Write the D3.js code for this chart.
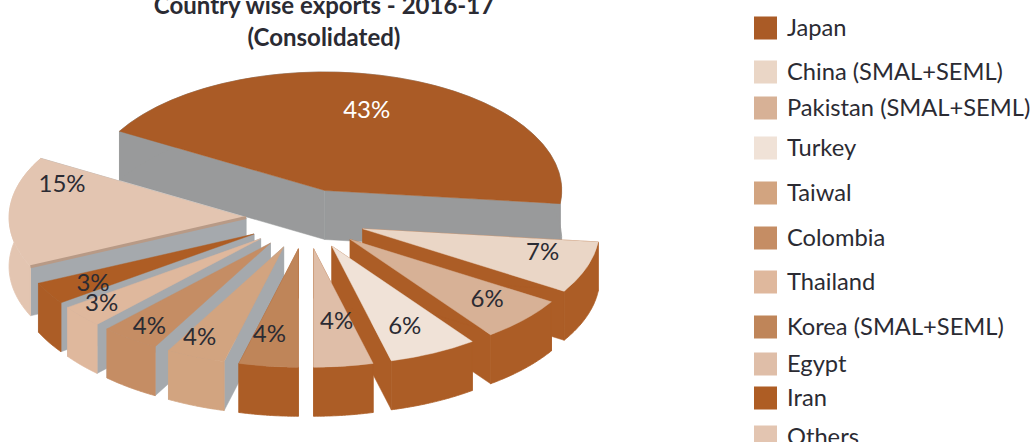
<!DOCTYPE html>
<html>
<head>
<meta charset="utf-8">
<script src="https://cdn.jsdelivr.net/npm/d3@7"></script>
<style>
  html, body { margin: 0; padding: 0; background: #fff; overflow: hidden; }
  text { font-family: Lato, "Open Sans", sans-serif; fill: #2b2b33; }
</style>
</head>
<body>
<div id="chart"></div>
<script>
// legend order
var categories = ["Japan", "China (SMAL+SEML)", "Pakistan (SMAL+SEML)", "Turkey", "Taiwal", "Colombia", "Thailand", "Korea (SMAL+SEML)", "Egypt", "Iran", "Others"];
var shares = [43, 7, 6, 6, 4, 4, 3, 4, 4, 3, 15];
var colors = ["#aa5b26", "#ead6c6", "#d7b196", "#f0e2d7", "#d2a480", "#c58d64", "#dfb89d", "#bf8559", "#dfbea8", "#ae5d24", "#e3c5b1"];

// going round the pie clockwise the slices are not in legend order
var sliceOrder = [0, 1, 2, 3, 8, 7, 4, 5, 6, 9, 10];

// chart set up
var width = 1035;
var height = 442;
var cx = 306;
var cy = 219;
var radius = 237;
var tilt = 0.5;
var explode = 60;
var depth = 49;
var startDeg = -60;
var rust = "#ac5d26";
var grey = "#a5a9ad";
var darkGrey = "#999a9b";

// side colours, same order as sliceOrder
var radialWall = [darkGrey, rust, rust, rust, rust, rust, grey, grey, grey, grey, grey];
var outerWall = [darkGrey, rust, rust, rust, rust, rust, null, null, null, rust, null];

// label offset from the slice apex, same order as sliceOrder
var labelOffset = [[42, -82], [180, 22], [137, 58], [73, 78], [23, 71], [-29, 84], [-84, 89], [-121, 81], [-159, 63], [-161, 47], [-184, -35]];

// legend rows are unevenly spaced in the original
var legendRowY = [28, 72, 108, 148, 193, 238, 282, 327, 364, 398, 437];
var legendX = 754;
var swatch = 23;

var svg = d3.select("#chart").append("svg").attr("width", width).attr("height", height);

var pie = d3.pie()
  .sort(null)
  .value(function(i) { return shares[i]; })
  .startAngle(startDeg * Math.PI / 180)
  .endAngle((startDeg + 360) * Math.PI / 180);

var slices = pie(sliceOrder).map(function(d, k) {
  var mid = (d.startAngle + d.endAngle) / 2;
  return {
    a0: d.startAngle,
    a1: d.endAngle,
    mid: mid,
    share: shares[d.data],
    color: colors[d.data],
    radial: radialWall[k],
    outer: outerWall[k] || colors[d.data],
    label: labelOffset[k],
    ax: cx + explode * Math.sin(mid),
    ay: cy - explode * Math.cos(mid) * tilt
  };
});

var arc = d3.arc().innerRadius(0).outerRadius(radius);
var line = d3.line();

// rim point of a slice, pushed down by dz
function rim(s, a, dz) {
  return [s.ax + radius * Math.sin(a), s.ay - radius * Math.cos(a) * tilt + dz];
}

function wallPath(s, a) {
  return line([[s.ax, s.ay], rim(s, a, 0), rim(s, a, depth), [s.ax, s.ay + depth]]) + "Z";
}

function outerPath(s) {
  var angles = d3.range(0, 41).map(function(i) { return s.a0 + (s.a1 - s.a0) * i / 40; });
  var upper = angles.map(function(a) { return rim(s, a, 0); });
  var lower = angles.slice().reverse().map(function(a) { return rim(s, a, depth); });
  return line(upper.concat(lower)) + "Z";
}

// paint back to front, furthest from the bottom of the pie first
var drawOrder = slices.slice().sort(function(a, b) {
  return d3.descending(Math.abs(a.mid - Math.PI), Math.abs(b.mid - Math.PI));
});

var groups = svg.selectAll("g.slice").data(drawOrder).enter().append("g").attr("class", "slice");

groups.append("path")
  .attr("d", function(s) { return wallPath(s, s.a1); })
  .attr("fill", function(s) { return s.radial; })
  .attr("stroke", function(s) { return s.radial; })
  .attr("stroke-width", 0.5);
groups.append("path")
  .attr("d", function(s) { return wallPath(s, s.a0); })
  .attr("fill", function(s) { return s.radial; })
  .attr("stroke", function(s) { return s.radial; })
  .attr("stroke-width", 0.5);
groups.append("path")
  .attr("d", outerPath)
  .attr("fill", function(s) { return s.outer; })
  .attr("stroke", function(s) { return s.outer; })
  .attr("stroke-width", 0.8);
groups.append("path")
  .attr("d", function(s) { return arc({ startAngle: s.a0, endAngle: s.a1 }); })
  .attr("transform", function(s) { return "translate(" + s.ax + "," + s.ay + ") scale(1," + tilt + ")"; })
  .attr("fill", function(s) { return s.color; })
  .attr("stroke", function(s) { return s.color; })
  .attr("stroke-width", 0.6);

// the big left slice has a thin darker lip along its front edge
var others = slices[slices.length - 1];
svg.insert("path", "g.slice:nth-of-type(3)")
  .attr("d", line([[others.ax, others.ay], rim(others, others.a0, 0)]))
  .attr("stroke", "#b89a86")
  .attr("stroke-width", 3)
  .attr("fill", "none");

// labels
svg.selectAll("text.pct").data(slices).enter().append("text")
  .attr("class", "pct")
  .attr("x", function(s) { return s.ax + s.label[0]; })
  .attr("y", function(s) { return s.ay + s.label[1]; })
  .attr("text-anchor", "middle")
  .attr("dominant-baseline", "central")
  .attr("font-size", 24)
  .style("fill", function(s) { return s.share === 43 ? "#fff" : "#2b2b33"; })
  .text(function(s) { return s.share + "%"; });

// title
var title = svg.append("g").attr("text-anchor", "middle").attr("font-weight", 700).attr("font-size", 24);
title.append("text").attr("x", 324).attr("y", 14).text("Country wise exports - 2016-17");
title.append("text").attr("x", 324).attr("y", 46).text("(Consolidated)");

// legend
var rows = svg.selectAll("g.legend").data(categories).enter().append("g")
  .attr("class", "legend")
  .attr("transform", function(d, i) { return "translate(" + legendX + "," + legendRowY[i] + ")"; });
rows.append("rect")
  .attr("y", -swatch / 2)
  .attr("width", swatch)
  .attr("height", swatch)
  .attr("fill", function(d, i) { return colors[i]; });
rows.append("text")
  .attr("x", 33)
  .attr("y", -1)
  .attr("dominant-baseline", "central")
  .attr("font-size", 23.7)
  .text(function(d) { return d; });
</script>
</body>
</html>
